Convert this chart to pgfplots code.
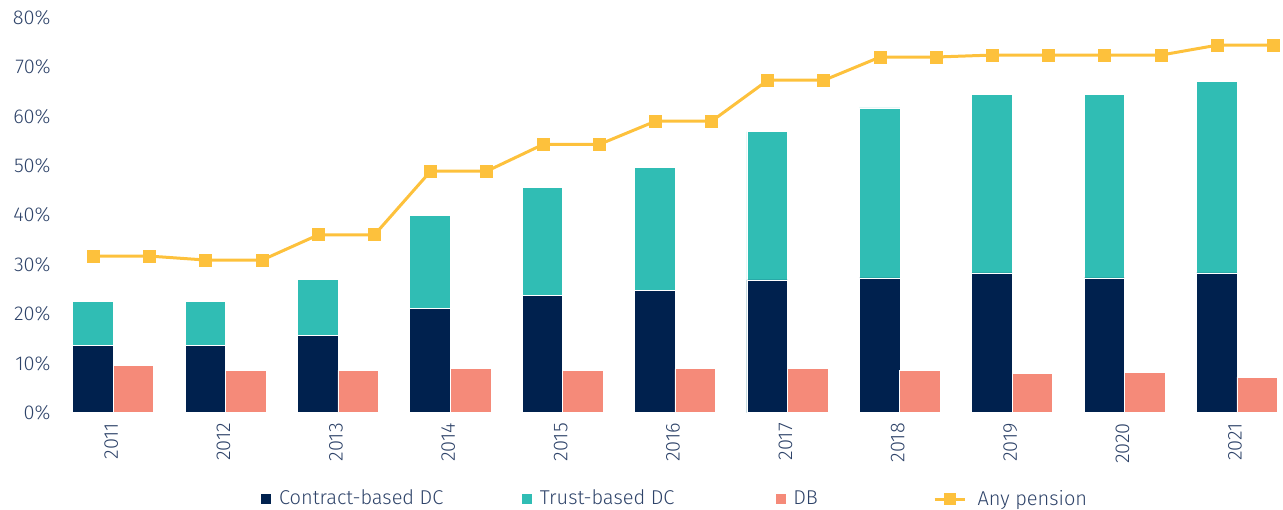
\documentclass[border=0pt]{standalone}
\usepackage{fontspec}
\setmainfont{Fira Sans Light}
\usepackage{pgfplots}
\pgfplotsset{compat=1.18}
\usepackage{pgfplotstable}
\definecolor{navy}{HTML}{00214E}
\definecolor{tealdc}{HTML}{30BDB4}
\definecolor{salmon}{HTML}{F58A79}
\definecolor{gold}{HTML}{FDC13C}
\definecolor{txt}{HTML}{2E4369}

% year index, contract-based DC, trust-based DC, DB (percent)
\pgfplotstableread{
x  c     t     db
0  13.6  9.0   9.6
1  13.6  9.0   8.6
2  15.7  11.3  8.6
3  21.1  18.8  8.9
4  23.8  21.8  8.6
5  24.8  24.9  8.9
6  26.9  30.0  8.9
7  27.3  34.4  8.6
8  28.3  36.1  7.9
9  27.3  37.1  8.2
10 28.3  38.8  7.2
}\pensions

\begin{document}
\fontsize{10bp}{12bp}\selectfont
\begin{tikzpicture}
\path[use as bounding box] (-28.5bp,-48.65bp) rectangle (613bp,206.35bp);
\begin{axis}[
  scale only axis, width=613bp, height=197.6bp,
  xmin=-0.5, xmax=10.41, ymin=0, ymax=80,
  axis line style={draw=none}, tick style={draw=none},
  major tick length=0pt,
  ytick={0,10,...,80},
  yticklabel={\pgfmathprintnumber{\tick}\%},
  yticklabel style={inner sep=0pt, xshift=-3bp, anchor=east},
  xtick={0,...,10},
  xticklabels={2011,2012,2013,2014,2015,2016,2017,2018,2019,2020,2021},
  xticklabel style={rotate=90, anchor=east, inner sep=0pt, xshift=-5bp, yshift=1bp},
  /pgf/number format/assume math mode=true,
  tick label style={font=\fontsize{10bp}{12bp}\selectfont, text=txt},
  clip=false,
  legend columns=4,
  legend style={draw=none, fill=none, inner sep=0pt, outer sep=0pt,
    at={(0.1668,-0.2184)}, anchor=west,
    nodes={inner sep=0pt, text=txt, font=\fontsize{10bp}{12bp}\selectfont},
    /tikz/every odd column/.append style={column sep=4bp},
    /tikz/every even column/.append style={column sep=0pt}},
]
\addplot[ybar, bar width=0.3615, bar shift=0pt, fill=tealdc, draw=white, line width=0.3bp,
  legend image code/.code={\fill[navy] (0bp,-2.25bp) rectangle (4.5bp,2.25bp);}]
  table[x expr=\thisrow{x}-0.18, y expr=\thisrow{c}+\thisrow{t}] {\pensions};
\addlegendentry{\makebox[121.6bp][l]{Contract-based DC}}
\addplot[ybar, bar width=0.3615, bar shift=0pt, fill=navy, draw=white, line width=0.3bp,
  legend image code/.code={\fill[tealdc] (0bp,-2.25bp) rectangle (4.5bp,2.25bp);}]
  table[x expr=\thisrow{x}-0.18, y=c] {\pensions};
\addlegendentry{\makebox[117.9bp][l]{Trust-based DC}}
\addplot[ybar, bar width=0.3615, bar shift=0pt, fill=salmon, draw=white, line width=0.3bp,
  legend image code/.code={\fill[salmon] (0bp,-2.25bp) rectangle (4.5bp,2.25bp);}]
  table[x expr=\thisrow{x}+0.18, y=db] {\pensions};
\addlegendentry{\makebox[69.9bp][l]{DB}}
\addplot[gold, line width=1.5bp, mark=square*, mark size=3bp, mark options={fill=gold, draw=gold, line width=0pt},
  legend image code/.code={\draw[gold, line width=1.5bp] (0bp,0bp) -- (15bp,0bp);
    \fill[gold] (5.25bp,-2.25bp) rectangle (9.75bp,2.25bp); \path (16.75bp,0bp);}]
  coordinates {
  (-0.175,31.7)(0.325,31.7)
  (0.825,30.9)(1.325,30.9)
  (1.825,36.0)(2.325,36.0)
  (2.825,48.9)(3.325,48.9)
  (3.825,54.3)(4.325,54.3)
  (4.825,59.0)(5.325,59.0)
  (5.825,67.3)(6.325,67.3)
  (6.825,72.0)(7.325,72.0)
  (7.825,72.4)(8.325,72.4)
  (8.825,72.4)(9.325,72.4)
  (9.825,74.4)(10.325,74.4)
  };
\addlegendentry{Any pension}
\end{axis}
\end{tikzpicture}
\end{document}
